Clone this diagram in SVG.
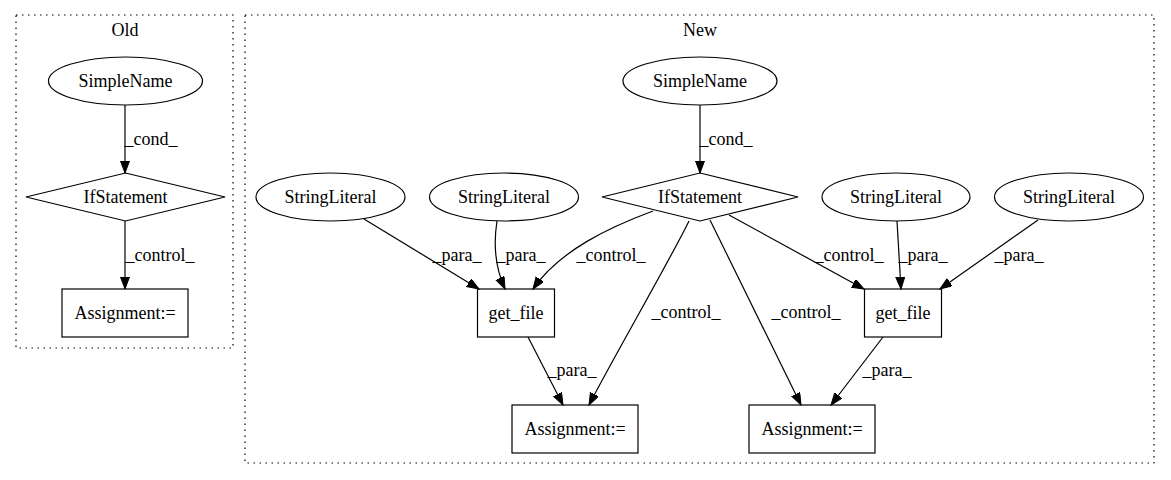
<svg xmlns="http://www.w3.org/2000/svg" width="1171" height="480" viewBox="0 0 1171 480" font-family="'Liberation Serif','Times New Roman',serif">
<style>
text{font-family:"Liberation Serif","Times New Roman",serif;font-size:18px;fill:#000;text-anchor:middle}
.n{fill:none;stroke:#000;stroke-width:1.2}
.cl{fill:none;stroke:#000;stroke-width:1.2;stroke-dasharray:1.5,4.5}
.e{fill:none;stroke:#000;stroke-width:1.2;marker-end:url(#ah)}
</style>
<defs>
<marker id="ah" markerUnits="userSpaceOnUse" markerWidth="14" markerHeight="10" refX="12" refY="4.5" orient="auto">
<path d="M0,0 L12,4.5 L0,9 z" fill="#000" stroke="#000" stroke-width="1"/>
</marker>
</defs>
<rect width="1171" height="480" fill="#fff"/>
<g id="cluster_old">
<rect class="cl" x="16" y="15" width="217" height="333"/>
<text x="125" y="36">Old</text>
</g>
<g id="cluster_new">
<rect class="cl" x="245" y="15" width="909" height="448"/>
<text x="700" y="36">New</text>
</g>
<g id="connectors">
<path class="e" d="M125,105 L125,173"/>
<text x="151" y="145">_cond_</text>
<path class="e" d="M125,221 L125,289"/>
<text x="160" y="261">_control_</text>

<path class="e" d="M700,105 L700,173"/>
<text x="726" y="145">_cond_</text>
<path class="e" d="M364,219 L479,289"/>
<text x="457" y="261">_para_</text>
<path class="e" d="M497,221 C494,240 494,265 505,289"/>
<text x="521" y="261">_para_</text>
<path class="e" d="M653,211 C610,227 560,250 533,289"/>
<text x="611" y="261">_control_</text>
<path class="e" d="M689,221 C670,260 612,360 589,405"/>
<text x="686" y="318">_control_</text>
<path class="e" d="M710,220 L801,405"/>
<text x="806" y="318">_control_</text>
<path class="e" d="M729,215 L864,289"/>
<text x="849" y="261">_control_</text>
<path class="e" d="M897,221 L901,289"/>
<text x="923" y="261">_para_</text>
<path class="e" d="M1038,220 L940,289"/>
<text x="1019" y="261">_para_</text>
<path class="e" d="M528,337 L563,405"/>
<text x="572" y="376">_para_</text>
<path class="e" d="M883,337 L831,405"/>
<text x="887" y="376">_para_</text>
</g>
<g id="old_simplename">
<ellipse class="n" cx="125.5" cy="81" rx="77" ry="24"/>
<text x="125.5" y="87">SimpleName</text>
</g>
<g id="old_if">
<polygon class="n" points="125.5,173 225,197 125.5,221 26,197"/>
<text x="125.5" y="203">IfStatement</text>
</g>
<g id="old_assign">
<rect class="n" x="62" y="289" width="126" height="48"/>
<text x="125" y="319">Assignment:=</text>
</g>
<g id="new_simplename">
<ellipse class="n" cx="700" cy="81" rx="77" ry="24"/>
<text x="700" y="87">SimpleName</text>
</g>
<g id="new_if">
<polygon class="n" points="700,173 798,197 700,221 602,197"/>
<text x="700" y="203">IfStatement</text>
</g>
<g id="sl1">
<ellipse class="n" cx="330.5" cy="197" rx="74.5" ry="24"/>
<text x="330.5" y="203">StringLiteral</text>
</g>
<g id="sl2">
<ellipse class="n" cx="504" cy="197" rx="74.5" ry="24"/>
<text x="504" y="203">StringLiteral</text>
</g>
<g id="sl3">
<ellipse class="n" cx="896" cy="197" rx="74" ry="24"/>
<text x="896" y="203">StringLiteral</text>
</g>
<g id="sl4">
<ellipse class="n" cx="1069" cy="197" rx="74.5" ry="24"/>
<text x="1069" y="203">StringLiteral</text>
</g>
<g id="getfile1">
<rect class="n" x="477.5" y="289" width="77" height="48"/>
<text x="516" y="319">get_file</text>
</g>
<g id="getfile2">
<rect class="n" x="864.5" y="289" width="77" height="48"/>
<text x="903" y="319">get_file</text>
</g>
<g id="assign1">
<rect class="n" x="512" y="405" width="126" height="48"/>
<text x="575" y="435">Assignment:=</text>
</g>
<g id="assign2">
<rect class="n" x="749" y="405" width="126" height="48"/>
<text x="812" y="435">Assignment:=</text>
</g>
</svg>
